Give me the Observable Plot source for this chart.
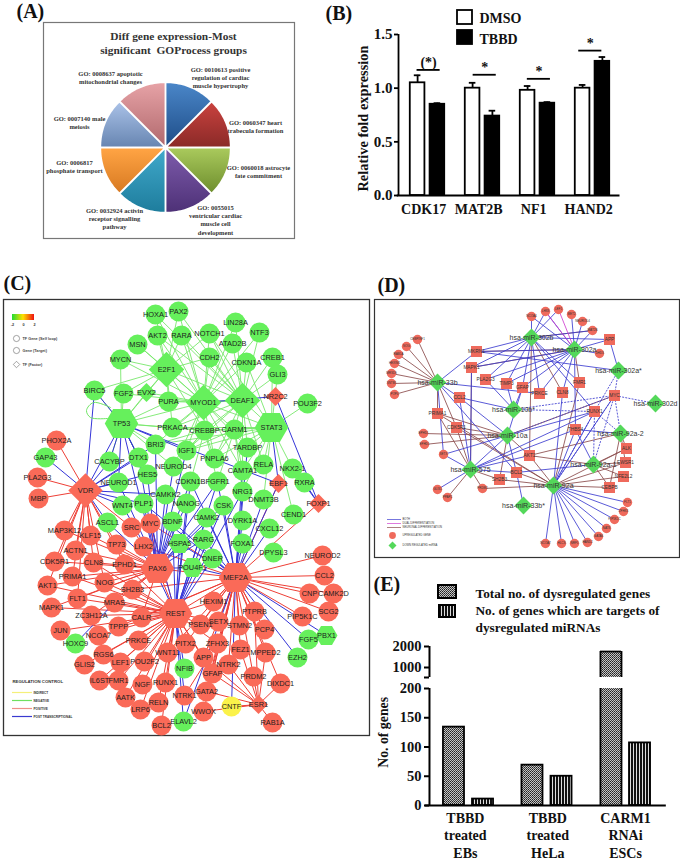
<!DOCTYPE html>
<html><head><meta charset="utf-8">
<script src="https://cdn.jsdelivr.net/npm/d3@7"></script>
<script src="https://cdn.jsdelivr.net/npm/@observablehq/plot@0.6"></script>
<style>
html,body{margin:0;padding:0;background:#fff}
#page{position:relative;width:680px;height:860px;overflow:hidden;background:#fff}
#page>svg{position:absolute}
</style></head><body>
<svg width="0" height="0" style="position:absolute">
<defs id="defs"></defs>
</svg>
<div id="page"></div>
<script>
/* ---------- (A) pie ---------- */
const pieTerms = [
 "GO: 0010613 positive\nregulation of cardiac\nmuscle hypertrophy",
 "GO: 0060347 heart\ntrabecula formation",
 "GO: 0060018 astrocyte\nfate commitment",
 "GO: 0055015\nventricular cardiac\nmuscle cell\ndevelopment",
 "GO: 0032924 activin\nreceptor signalling\npathway",
 "GO: 0006817\nphosphate transport",
 "GO: 0007140 male\nmeiosis",
 "GO: 0008637 apoptotic\nmitochondrial changes"];
const pieShares = [1,1,1,1,1,1,1,1];
const pieTop = ["#4a86c8","#c9423e","#a9c95c","#7d5bab","#40a8ca","#ffa444","#a9c1e7","#e6a2a6"];
const pieBottom = ["#1f4e89","#8b2a28","#6f8f2e","#4e3177","#1e7d9d","#d87a22","#6886b2","#b26a6e"];
const pieLabelX = [220,255,258,215,114,74,79,110];
const pieLabelY = [77,126,171,219,218,166,122,77];
/* ---------- (B) bars ---------- */
const genes = ["CDK17","MAT2B","NF1","HAND2"];
const dmso = [1.05,1.00,0.98,1.00];
const dmsoErr = [0.07,0.05,0.04,0.03];
const tbbd = [0.85,0.74,0.86,1.25];
const tbbdErr = [0.01,0.05,0.01,0.04];
const sigMark = ["(*)","*","*","*"];
const sigLevel = [1.17,1.125,1.087,1.35];
const sigShift = [0.02,0.04,0.025,-0.04];
/* ---------- (C) network ---------- */
const cGreen = [["HOXA1",155,314],["PAX2",178,311],["AKT2",157,335],["RARA",181,335],["MSN",137,344],["MYCN",120,359],["BIRC5",94,390],["FGF2",123,393],["PURA",168,401],["PRKACA",172,427],["BRI3",155,444],["IGF1",186,450],["DTX1",138,457],["CACYBP",109,461],["NEUROD4",173,466],["HES5",147,474],["NEUROD1",118,482],["CDKN1B",190,481],["CAMKK2",165,494],["NANOG",186,503],["WNT4",122,505],["PLP1",143,503],["GAP43",45,457],["ASCL1",107,522],["BDNF",172,521],["LIN28A",235,322],["NTF3",259,332],["NOTCH1",209,333],["ATAD2B",232,343],["CDH2",209,357],["CREB1",272,357],["CDKN1A",246,362],["GLI3",277,374],["POU3F2",307,403],["CREBBP",204,430],["CARM1",234,429],["TARDBP",247,447],["PNPLA6",214,458],["CAMTA1",242,470],["RELA",263,464],["NKX2-1",292,468],["RXRA",304,482],["FGFR1",217,481],["NRG1",242,491],["DNMT3B",263,499],["CSK",223,505],["CEND1",293,514],["CAMK2",206,517],["DYRK1A",242,520],["CXCL12",269,528],["RARG",203,539],["FOXA1",242,543],["DPYSL3",273,552],["DNER",212,558],["HOXC9",75,643],["NFIB",184,668],["ELAVL2",183,721],["FGF5",308,639],["EZH2",297,657]];
const cRed = [["PHOX2A",56,440],["PLA2G3",37,477],["MBP",38,498],["SRC",131,527],["MYC",150,523],["MAP3K12",64,530],["KLF15",90,535],["TP73",116,544],["LHX2",143,546],["ACTN1",75,550],["CDK5R1",54,561],["CLN8",93,562],["EPHD1",124,564],["PRIMA1",72,576],["AKT1",47,585],["NOG",104,582],["SH2B3",132,589],["MRAS",114,602],["FLT1",77,598],["MAPK1",51,607],["ZC3H12A",91,615],["CALR",141,617],["TPPP",118,626],["JUN",60,630],["NCOA7",98,635],["PRKCE",138,640],["WNT11",167,652],["RGS6",103,654],["GLIS2",84,664],["LEF1",120,662],["POU2F2",144,661],["IL6ST",99,680],["FMR1",118,680],["NGF",142,684],["RUNX1",165,682],["AATK",125,697],["RELN",158,702],["LRP6",140,709],["BCL2",161,725],["NEUROD2",322,555],["CCL2",324,575],["CAMK2D",333,593],["CNP",309,593],["HEXIM1",213,601],["PTPRB",254,611],["SCG2",328,611],["PIP5K1C",302,616],["SETX",218,621],["PSEN1",200,624],["STMN2",239,625],["PCP4",264,629],["ZFHX3",217,643],["PITX2",185,643],["FEZ1",240,649],["MPPED2",265,652],["APP",203,657],["NTRK2",228,664],["GFAP",212,673],["PRDM2",253,676],["DIXDC1",280,683],["GATA2",206,691],["NTRK1",184,695],["WWOX",203,711],["RAB1A",272,722]];
const cYellow = [["CNTF",231,706]];
const cGreenSmallHex = [["PBX1",326,635],["HSPA5",179,543],["POU4F1",192,567]];
const cGreenSmallDiamond = [["EVX2",146,392]];
const cGreenDiamond = [["E2F1",166,369],["MYOD1",203,402],["DEAF1",242,400]];
const cGreenHex = [["TP53",121,423],["STAT3",271,427]];
const cRedSmallDiamond = [["NR2C2",275,396],["EBF1",278,483],["FOXP1",318,503],["ESR1",258,704]];
const cRedDiamond = [["VDR",85,490]];
const cRedHex = [["PAX6",157,568],["MEF2A",235,577],["REST",175,613]];
const cGreenEdges = [
 ["E2F1",["HOXA1","PAX2","AKT2","RARA","MSN","MYCN","BIRC5","FGF2","EVX2","PURA","TP53","MYOD1","DEAF1","CREBBP","PRKACA","NOTCH1","CDH2"]],
 ["TP53",["BIRC5","FGF2","EVX2","PURA","PRKACA","BRI3","DTX1","CACYBP","HES5","MYOD1","CREBBP","MYCN","NEUROD4"]],
 ["MYOD1",["HOXA1","PAX2","AKT2","RARA","MSN","MYCN","NOTCH1","CDH2","ATAD2B","LIN28A","NTF3","CDKN1A","FGF2","EVX2","PURA","PRKACA","BRI3","IGF1","PNPLA6","CREBBP","CARM1","TARDBP","CAMTA1","NEUROD4","DEAF1","STAT3"]],
 ["DEAF1",["NOTCH1","CDH2","ATAD2B","LIN28A","NTF3","CDKN1A","CREB1","GLI3","PURA","PRKACA","CREBBP","CARM1","TARDBP","PNPLA6","AKT2","RARA","RELA","CAMTA1","STAT3","IGF1","HOXA1","PAX2"]],
 ["STAT3",["POU3F2","CREB1","GLI3","CDKN1A","CREBBP","CARM1","TARDBP","RELA","CAMTA1","NKX2-1","PNPLA6","PRKACA","IGF1","NRG1","DNMT3B","CEND1","NOTCH1","BRI3"]],
 ["CREBBP",["PRKACA","BRI3","IGF1","NEUROD4","CARM1","PNPLA6","FGFR1","CDKN1B"]],
 ["CARM1",["TARDBP","CAMTA1","PNPLA6","FGFR1","NRG1","IGF1"]]];
const cRedEdges = [
 ["VDR",["PHOX2A","PLA2G3","MBP","MAP3K12","KLF15","CDK5R1","ACTN1","CLN8","TP73","AKT1","PRIMA1","FLT1","SRC","EPHD1","NOG"]],
 ["PAX6",["LHX2","MYC","SRC","TP73","EPHD1","CLN8","ACTN1","CDK5R1","MAP3K12","KLF15","PRIMA1","AKT1","NOG","FLT1","SH2B3","MRAS","MAPK1","ZC3H12A","CALR","REST","MEF2A"]],
 ["REST",["SH2B3","MRAS","CALR","TPPP","NCOA7","PRKCE","ZC3H12A","FLT1","NOG","PRIMA1","RGS6","LEF1","POU2F2","WNT11","PITX2","RUNX1","IL6ST","FMR1","NGF","AATK","RELN","LRP6","BCL2","GLIS2","JUN","MYC","EPHD1","CLN8","MEF2A","PSEN1","SETX","ZFHX3","APP","GFAP","HEXIM1","MAPK1","AKT1"]],
 ["MEF2A",["NEUROD2","CCL2","CNP","CAMK2D","SCG2","PIP5K1C","HEXIM1","PTPRB","STMN2","SETX","PSEN1","PCP4","ZFHX3","PITX2","FEZ1","MPPED2","APP","NTRK2","GFAP","GATA2","PRDM2","DIXDC1","WWOX","CALR","MYC","TPPP","LHX2","FOXP1","EBF1","SH2B3","WNT11"]],
 ["ESR1",["GATA2","CNTF","GFAP","NTRK2","PRDM2","DIXDC1","FEZ1","MPPED2","RAB1A","PTPRB","WWOX","APP"]],
 ["ZFHX3",["NTRK1","GATA2"]]];
const cBlueEdges = [
 ["VDR",["GAP43","NEUROD1","WNT4","PLP1","CACYBP","TP53","DTX1","HES5","ASCL1","BIRC5","CAMKK2","BRI3"]],
 ["PAX6",["BDNF","HSPA5","POU4F1","CAMKK2","NANOG","HES5","NEUROD1","PLP1","WNT4","ASCL1","DTX1","BRI3","IGF1","NEUROD4","CDKN1B","RARG","CSK","CAMK2","TP53","FGFR1"]],
 ["REST",["NFIB","ELAVL2","NTRK1","POU4F1","HSPA5","BDNF","MYC","LHX2","RARG","FGFR1","DNER","CAMK2","CDKN1B","NANOG","CSK","NRG1"]],
 ["MEF2A",["CNTF","FGF5","PBX1","EZH2","POU4F1","DNER","FOXA1","DYRK1A","CSK","CXCL12","NRG1","CAMK2","DNMT3B","CDKN1B","FGFR1","TARDBP","EBF1","RARG","HSPA5","BDNF","CAMTA1","PLP1","ELAVL2"]],
 ["TP53",["BIRC5","CACYBP","IGF1","DTX1","HES5","NEUROD1","EBF1"]],
 ["MYOD1",["NR2C2"]],["NR2C2",["FOXP1"]],["STAT3",["EBF1"]],["FOXP1",["NKX2-1","RXRA"]],["MRAS",["HOXC9"]]];
const cSelfLoop = [[110,407],[93,402],[86,410],[90,417],[107,418]];
const cRegLegend = ["INDIRECT","NEGATIVE","POSITIVE","POST TRANSCRIPTIONAL"];
const cRegColors = ["#f5f07a","#6fe05f","#ef8f88","#3a3ad0"];
const cTypeLegend = ["TF Gene (Self loop)","Gene (Target)","TF (Factor)"];
/* ---------- (D) miRNA network ---------- */
const dMirna = [["hsa-miR-302b",531,337],["hsa-miR-302a",574,349],["hsa-miR-302a*",618,370],["hsa-miR-302d",655,403],["hsa-miR-33b",437,382],["hsa-miR-10b*",513,409],["hsa-miR-10a",507,435],["hsa-miR-92a-2",620,433],["hsa-miR-92a-1",593,464],["hsa-miR-575",470,469],["hsa-miR-92a",553,485],["hsa-miR-33b*",523,505]];
const dSquares = [["MKRN1",476,351],["MAPK1",471,367],["PLA2G3",485,379],["TIMP3",506,383],["GFAP",522,387],["PRKCE",539,393],["CLN8",562,392],["FMR1",579,382],["APP",609,339],["MYC",614,395],["RUNX1",594,411],["THBS4",575,429],["CCL2",459,397],["PRIMA1",437,413],["CDK5R1",456,427],["AKT1",529,455],["ALK",626,448],["EWSR1",625,462],["NFE2L2",623,476],["CEBPB",609,487],["BCL2",516,472],["SH2B3",499,479]];
const dCircles = [["NCOA4",531,316],["LHX8",545,311],["LEF1",558,309],["MET2",571,314],["NEUROD4",582,321],["MAT2B",592,330],["DHD3",599,353],["CEBPINF1",417,339],["NOG",406,346],["RAB1A",398,354],["HEXIM1",394,363],["MRSD9",391,373],["SNTB1",391,383],["POP4",394,394],["EPHD1",423,433],["EFHD1",424,444],["SETX",443,454],["GLIS1",437,489],["PPAP2",447,497],["PRDM2",482,488],["FLT1",627,502],["ZFHX3",623,511],["PIP5K1C",614,519],["NAT8",606,528],["GATA6",598,536],["HAND2",587,542],["NRF1",574,543],["HLCS",561,543],["NCOA7",545,543]];
const dBlueEdges = [
 ["hsa-miR-302b",["NCOA4","LHX8","LEF1","MKRN1","MAPK1","PLA2G3","TIMP3","GFAP","PRKCE","RUNX1","APP","MAT2B","FMR1"]],
 ["hsa-miR-302a",["MET2","NEUROD4","MAT2B","APP","DHD3","MKRN1","MAPK1","PLA2G3","TIMP3","GFAP","CLN8","THBS4","LHX8","NCOA4","PRKCE"]],
 ["hsa-miR-302a*",["MKRN1","APP"]],
 ["hsa-miR-33b",["MKRN1","PRKCE","CCL2","BCL2","SETX"]],
 ["hsa-miR-10b*",["PLA2G3","CCL2","TIMP3","GFAP"]],
 ["hsa-miR-10a",["CCL2","GFAP","SETX","BCL2","RUNX1"]],
 ["hsa-miR-575",["GLIS1","SETX","CCL2","BCL2","THBS4","AKT1","RUNX1","MAPK1","hsa-miR-10a"]],
 ["hsa-miR-92a",["FLT1","ZFHX3","PIP5K1C","NAT8","GATA6","HAND2","NRF1","HLCS","NCOA7","THBS4","RUNX1","MYC","CLN8"]],
 ["hsa-miR-92a-1",["THBS4","BCL2"]],["hsa-miR-92a-2",["THBS4"]],["hsa-miR-33b*",["BCL2"]]];
const dBrownEdges = [
 ["hsa-miR-33b",["CEBPINF1","NOG","RAB1A","HEXIM1","MRSD9","SNTB1","POP4","PRIMA1","CDK5R1"]],
 ["hsa-miR-302b",["MAT2B","CLN8","AKT1"]],["hsa-miR-302a",["MKRN1","MAPK1","FMR1"]],
 ["hsa-miR-10a",["PRIMA1","CDK5R1","EPHD1","EFHD1","AKT1","SH2B3","MYC"]],
 ["hsa-miR-575",["PPAP2","PRDM2","SH2B3","PRIMA1","CDK5R1","MAPK1"]],
 ["hsa-miR-92a",["CEBPB","NFE2L2","EWSR1","ALK","SH2B3","PRDM2","BCL2","AKT1","CDK5R1","PRIMA1","FMR1"]],
 ["hsa-miR-92a-1",["CEBPB","EWSR1","AKT1","NFE2L2","ALK"]],
 ["hsa-miR-92a-2",["ALK","EWSR1","CEBPB","AKT1"]]];
const dPinkEdges = [["hsa-miR-302a",["LHX8","LEF1"]]];
const dDashedEdges = [
 ["hsa-miR-302a*",["MYC","RUNX1"]],["hsa-miR-302d",["MYC"]],
 ["hsa-miR-10b*",["RUNX1","MYC"]],["hsa-miR-10a",["MYC"]],
 ["hsa-miR-92a",["MYC","RUNX1"]],["hsa-miR-92a-1",["MYC","RUNX1"]],["hsa-miR-92a-2",["MYC","RUNX1"]]];
const dLineLegend = ["BOTH","DUAL DIFFERENTIATION","NEURONAL DIFFERENTIATION"];
const dLineColors = ["#3c3cd0","#d040d0","#8a4a4a"];
const dMarkLegend = ["UPREGULATED GENE","DOWN REGULATED miRNA"];
/* ---------- (E) bars ---------- */
const eGroups = ["TBBD\ntreated\nEBs","TBBD\ntreated\nHeLa","CARM1\nRNAi\nESCs"];
const eTotal = [134,69,1760];
const eTargets = [11,50,107];
const eLowerTicks = [0,50,100,150,200];
const eUpperTicks = [1000,2000];
const eLegend = ["Total no. of dysregulated genes","No. of genes which are targets of\ndysregulated miRNAs"];

/* ---------- shared ---------- */
const SERIF = "'Liberation Serif','Times New Roman',serif";
const SANS = "'Liberation Sans',Arial,sans-serif";
const page = document.getElementById("page");
function place(svg,left,top){svg.style.left=left+"px";svg.style.top=top+"px";svg.style.maxWidth="none";svg.style.height=svg.getAttribute("height")+"px";page.appendChild(svg);}
const defs = document.getElementById("defs");
const makeGrad = (id,stops)=>`<linearGradient id="${id}" x1="0" y1="0" x2="0" y2="1">${stops}</linearGradient>`;
defs.innerHTML =
 pieTop.map((c,i)=>makeGrad("pie"+i,`<stop offset="0" stop-color="${c}"/><stop offset="1" stop-color="${pieBottom[i]}"/>`)).join("")
 +`<linearGradient id="heat" x1="0" y1="0" x2="1" y2="0"><stop offset="0" stop-color="#22dd33"/><stop offset="0.5" stop-color="#ffe000"/><stop offset="1" stop-color="#ee1111"/></linearGradient>`
 +`<pattern id="dots" width="2" height="2" patternUnits="userSpaceOnUse"><rect width="2" height="2" fill="#c4c4c4"/><rect width="1" height="1" fill="#222"/><rect x="1" y="1" width="1" height="1" fill="#444"/></pattern>`
 +`<pattern id="stripes" width="3" height="3" patternUnits="userSpaceOnUse"><rect width="3" height="3" fill="#ddd"/><rect width="2" height="3" fill="#111"/></pattern>`;

const bare = {axis:null};
const pxScale = (a,b)=>({...bare,domain:[a,b],range:[0,b-a]});
const panelLabel = (t,x,y)=>Plot.text([t],{x:()=>x,y:()=>y,text:d=>d,fontFamily:SERIF,fontWeight:"bold",fontSize:20,fill:"#111",textAnchor:"start"});

/* ---------- draw (A) ---------- */
{
 const CX=165,CY=147,R=62,OFF=2.5;
 const arcs = d3.pie().sort(null)(pieShares);
 const sector = a=>{const mid=(a.startAngle+a.endAngle)/2;
  const ox=CX+OFF*Math.sin(mid),oy=CY-OFF*Math.cos(mid);
  const pts=[{x:ox,y:oy}];
  d3.range(0,25).forEach(k=>{const t=a.startAngle+(a.endAngle-a.startAngle)*k/24;pts.push({x:ox+R*Math.sin(t),y:oy-R*Math.cos(t)});});
  pts.push({x:ox,y:oy});return pts;};
 const svg = Plot.plot({width:340,height:250,marginLeft:43,marginTop:22,marginRight:46,marginBottom:12,
  x:pxScale(0,340),y:pxScale(0,250),style:{background:"transparent"},
  marks:[
   Plot.frame({stroke:"#777",strokeWidth:1.2}),
   ...arcs.map((a,i)=>Plot.line(sector(a),{x:"x",y:"y",fill:`url(#pie${i})`,stroke:"none"})),
   Plot.text(pieTerms,{x:(d,i)=>pieLabelX[i],y:(d,i)=>pieLabelY[i],text:d=>d,fontFamily:SERIF,fontWeight:"bold",fontSize:6.5,lineHeight:1.28,fill:"#333"}),
   Plot.text(["Diff gene expression-Most\nsignificant  GOProcess groups"],{x:()=>173,y:()=>42,text:d=>d,fontFamily:SERIF,fontWeight:"bold",fontSize:11.4,lineHeight:1.25,fill:"#333"}),
   panelLabel("(A)",16,11)
  ]});
 place(svg,0,0);
}
/* ---------- draw (B) ---------- */
{
 const OFF=0.18,HALF=0.133;
 const bars = genes.flatMap((g,i)=>[{g,i,x:i-OFF,v:dmso[i],e:dmsoErr[i],fill:"#fff"},{g,i,x:i+OFF,v:tbbd[i],e:tbbdErr[i],fill:"#000"}]);
 const sig = genes.map((g,i)=>({i,x:i+sigShift[i],y:sigLevel[i],t:sigMark[i]}));
 const svg = Plot.plot({width:340,height:250,marginLeft:58,marginTop:34,marginRight:60,marginBottom:55,
  x:{axis:null,domain:[0,3],range:[87,252]},
  y:{domain:[0,1.5],range:[195,34],axis:null},style:{background:"transparent"},
  marks:[
   Plot.ruleX(bars,{x:"x",y1:"v",y2:d=>d.v+d.e,stroke:"#000",strokeWidth:1.8}),
   Plot.ruleY(bars,{y:d=>d.v+d.e,x1:d=>d.x-0.06,x2:d=>d.x+0.06,stroke:"#000",strokeWidth:1.8}),
   Plot.rect(bars,{x1:d=>d.x-HALF,x2:d=>d.x+HALF,y1:()=>0,y2:"v",fill:"fill",stroke:"#000",strokeWidth:1.8}),
   Plot.ruleY([0],{x1:-0.55,x2:3.5,stroke:"#000",strokeWidth:1.8}),
   Plot.ruleX([-0.527],{y1:0,y2:1.5,stroke:"#000",strokeWidth:1.8}),
   Plot.axisY({ticks:[0,0.5,1,1.5],tickFormat:".1f",tickSize:4,tickPadding:2,label:null,fontFamily:SERIF,fontWeight:"bold",fontSize:15,fill:"#111",stroke:"#000",strokeWidth:1.8,anchor:"left"}),
   Plot.text(genes,{x:(d,i)=>i-0.07,y:()=>0,dy:14,text:d=>d,fontFamily:SERIF,fontWeight:"bold",fontSize:14,fill:"#111"}),
   Plot.ruleY(sig,{y:"y",x1:d=>d.x-0.21,x2:d=>d.x+0.21,stroke:"#000",strokeWidth:1.8}),
   Plot.text(sig,{x:"x",y:"y",dy:-7,text:"t",fontFamily:SERIF,fontWeight:"bold",fontSize:14,fill:"#111"}),
   Plot.text(["Relative fold expression"],{x:()=>-1.16,y:()=>0.717,rotate:-90,text:d=>d,fontFamily:SERIF,fontWeight:"bold",fontSize:14.4,fill:"#111"})
  ]});
 place(svg,340,0);
 const leg = Plot.plot({width:220,height:60,margin:0,x:pxScale(0,220),y:pxScale(0,60),style:{background:"transparent"},
  marks:[
   Plot.rect(["DMSO","TBBD"],{x1:()=>5,x2:()=>20,y1:(d,i)=>i?30:10,y2:(d,i)=>i?44:24,fill:(d,i)=>i?"#000":"#fff",stroke:"#000",strokeWidth:1.8}),
   Plot.text(["DMSO","TBBD"],{x:()=>27,y:(d,i)=>i?39:18,text:d=>d,textAnchor:"start",fontFamily:SERIF,fontWeight:"bold",fontSize:14,fill:"#111"})
  ]});
 place(leg,452,0);
 const l=Plot.plot({width:30,height:30,margin:0,x:pxScale(0,30),y:pxScale(0,30),style:{background:"transparent"},marks:[panelLabel("(B)",0,13)]});
 place(l,325,0);
}
/* ---------- draw (C) ---------- */
{
 const all=[...cGreen,...cRed,...cYellow,...cGreenSmallHex,...cGreenSmallDiamond,...cGreenDiamond,...cGreenHex,...cRedSmallDiamond,...cRedDiamond,...cRedHex];
 const pos=new Map(all.map(d=>[d[0],d]));
 const expand=list=>list.flatMap(([h,ts])=>ts.map(t=>({a:pos.get(h),b:pos.get(t)})));
 const link=(list,stroke,w)=>Plot.link(expand(list),{x1:d=>d.a[1],y1:d=>d.a[2],x2:d=>d.b[1],y2:d=>d.b[2],stroke,strokeWidth:w});
 const G="#66f05c",Rd="#fa6a58";
 const dots=(arr,fill,r,symbol,rot)=>Plot.dot(arr,{x:d=>d[1],y:d=>d[2],r,symbol,fill,stroke:"none",rotate:rot||0});
 const reg=cRegLegend.map((t,i)=>({t,c:cRegColors[i],y:692+8*i}));
 const svg=Plot.plot({width:372,height:470,marginLeft:3,marginTop:29,marginRight:3,marginBottom:5,
  x:pxScale(0,372),y:pxScale(270,740),style:{background:"transparent"},
  marks:[
   Plot.frame({stroke:"#333",strokeWidth:1.3}),
   link(cGreenEdges,"#78e86c",0.9),
   link(cRedEdges,"#ee3f36",1),
   link(cBlueEdges,"#3535d8",1),
   Plot.line(cSelfLoop,{x:d=>d[0],y:d=>d[1],curve:"catmull-rom",stroke:"#6fe564",strokeWidth:1}),
   dots(cGreen,G,10,"circle"),dots(cRed,Rd,10,"circle"),dots(cYellow,"#fbf24a",10,"circle"),
   dots(cGreenSmallHex,G,9.5,"hexagon",30),dots(cGreenSmallDiamond,G,8.5,"diamond2"),
   dots(cGreenDiamond,G,16,"diamond2"),dots(cGreenHex,G,14.5,"hexagon",30),
   dots(cRedSmallDiamond,Rd,8.5,"diamond2"),dots(cRedDiamond,Rd,15.5,"diamond2"),dots(cRedHex,Rd,14.5,"hexagon",30),
   Plot.text(all,{x:d=>d[1],y:d=>d[2],text:d=>d[0],fontFamily:SANS,fontSize:7.4,fill:"#1c1c1c"}),
   Plot.rect(["heat"],{x1:()=>12,x2:()=>34,y1:()=>314,y2:()=>320,fill:"url(#heat)"}),
   Plot.text(["-2","0","2"],{x:(d,i)=>12+11*i,y:()=>324,text:d=>d,fontFamily:SANS,fontWeight:"bold",fontSize:3.8,fill:"#333"}),
   Plot.dot(cTypeLegend,{x:()=>16,y:(d,i)=>[338,350,364][i],r:(d,i)=>i==2?3.2:3.6,symbol:(d,i)=>i==2?"diamond2":"circle",fill:"#fff",stroke:"#666",strokeWidth:.6}),
   Plot.text(cTypeLegend,{x:()=>22,y:(d,i)=>[338,350,364][i],text:d=>d,textAnchor:"start",fontFamily:SANS,fontWeight:"bold",fontSize:3.8,fill:"#444"}),
   Plot.text(["REGULATION CONTROL"],{x:()=>12,y:()=>681,text:d=>d,textAnchor:"start",fontFamily:SANS,fontWeight:"bold",fontSize:4.3,fill:"#333"}),
   Plot.ruleY(reg,{y:"y",x1:12,x2:32,stroke:"c",strokeWidth:1.2}),
   Plot.text(reg,{x:()=>33,y:"y",text:"t",textAnchor:"start",fontFamily:SANS,fontWeight:"bold",fontSize:3.1,fill:"#333"}),
   panelLabel("(C)",3,283)
  ]});
 place(svg,0,270);
}
/* ---------- draw (D) ---------- */
{
 const all=[...dMirna,...dSquares,...dCircles];
 const pos=new Map(all.map(d=>[d[0],d]));
 const expand=list=>list.flatMap(([h,ts])=>ts.map(t=>({a:pos.get(h),b:pos.get(t)})));
 const link=(list,stroke,extra={})=>Plot.link(expand(list),{x1:d=>d.a[1],y1:d=>d.a[2],x2:d=>d.b[1],y2:d=>d.b[2],stroke,strokeWidth:.85,...extra});
 const lines=dLineLegend.map((t,i)=>({t,c:dLineColors[i],y:519+4*i}));
 const svg=Plot.plot({width:310,height:295,marginLeft:4,marginTop:29,marginRight:1,marginBottom:8,
  x:pxScale(370,680),y:pxScale(270,565),style:{background:"transparent"},
  marks:[
   Plot.frame({stroke:"#333",strokeWidth:1.2}),
   link(dBrownEdges,"#8a4a4a"),link(dBlueEdges,"#3c3cd0"),link(dPinkEdges,"#d040d0"),link(dDashedEdges,"#3c3cd0",{strokeDasharray:"2,1.2"}),
   Plot.dot(dCircles,{x:d=>d[1],y:d=>d[2],r:4.7,fill:"#ef6a5c"}),
   Plot.dot(dSquares,{x:d=>d[1],y:d=>d[2],r:6.2,symbol:"square",fill:"#ef6a5c"}),
   Plot.dot(dMirna,{x:d=>d[1],y:d=>d[2],r:8,symbol:"diamond2",fill:"#54d85a"}),
   Plot.text(dCircles,{x:d=>d[1],y:d=>d[2],text:d=>d[0],fontFamily:SANS,fontSize:3,fill:"#333"}),
   Plot.text(dSquares,{x:d=>d[1],y:d=>d[2],text:d=>d[0],fontFamily:SANS,fontSize:4.8,fill:"#333"}),
   Plot.text(dMirna,{x:d=>d[1],y:d=>d[2],text:d=>d[0],fontFamily:SANS,fontSize:7,fill:"#333"}),
   Plot.ruleY(lines,{y:"y",x1:387,x2:401,stroke:"c",strokeWidth:.7}),
   Plot.text(lines,{x:()=>402,y:"y",text:"t",textAnchor:"start",fontFamily:SANS,fontSize:2.7,fill:"#333"}),
   Plot.dot(["u"],{x:()=>392,y:()=>535,r:3.4,fill:"#ef6a5c"}),
   Plot.dot(["d"],{x:()=>392,y:()=>545,r:3.6,symbol:"diamond2",fill:"#54d85a"}),
   Plot.text(dMarkLegend,{x:()=>402,y:(d,i)=>i?545:535,text:d=>d,textAnchor:"start",fontFamily:SANS,fontSize:2.7,fill:"#333"}),
   panelLabel("(D)",377,285)
  ]});
 place(svg,370,270);
}
/* ---------- draw (E): the axis breaks between 200 and about 524, so two stacked plots ---------- */
{
 const OFF=0.185,HALF=0.134,T=565,BR=524,TOP=200,W=1.8;
 const total=eGroups.map((g,i)=>({i,x:i-OFF,v:eTotal[i]}));
 const tgt=eGroups.map((g,i)=>({i,x:i+OFF,v:eTargets[i]}));
 const broken=total.filter(d=>d.v>TOP), whole=total.filter(d=>d.v<=TOP);
 const xs={axis:null,domain:[0,2],range:[98,255]};
 const sides=list=>list.flatMap(d=>[d.x-HALF,d.x+HALF]);
 const lower=Plot.plot({width:310,height:295,marginLeft:59,marginTop:60,marginRight:10,marginBottom:55,
  x:xs,y:{axis:null,domain:[0,TOP],range:[805-T,688-T]},style:{background:"transparent"},
  marks:[
   Plot.rect(whole,{x1:d=>d.x-HALF,x2:d=>d.x+HALF,y1:()=>0,y2:"v",fill:"url(#dots)",stroke:"#000",strokeWidth:W}),
   Plot.rect(broken,{x1:d=>d.x-HALF,x2:d=>d.x+HALF,y1:()=>0,y2:()=>TOP,fill:"url(#dots)"}),
   Plot.ruleX(sides(broken),{y1:0,y2:TOP,stroke:"#000",strokeWidth:W}),
   Plot.rect(tgt,{x1:d=>d.x-HALF,x2:d=>d.x+HALF,y1:()=>0,y2:"v",fill:"url(#stripes)",stroke:"#000",strokeWidth:W}),
   Plot.ruleY([0],{x1:-0.55,x2:2.52,stroke:"#000",strokeWidth:2}),
   Plot.ruleX([-0.497],{y1:0,y2:TOP,stroke:"#000",strokeWidth:2}),
   Plot.axisY({ticks:eLowerTicks,tickSize:5,tickPadding:3,label:null,tickFormat:d=>String(d),anchor:"left",fontFamily:SERIF,fontWeight:"bold",fontSize:14.5,fill:"#111",stroke:"#000",strokeWidth:2}),
   Plot.text(eGroups,{x:(d,i)=>[-0.04,1.01,2][i],y:()=>0,dy:29.5,text:d=>d,lineHeight:1.22,fontFamily:SERIF,fontWeight:"bold",fontSize:14,fill:"#111"}),
   Plot.text(["No. of genes"],{x:()=>-1.08,y:()=>125,text:d=>d,rotate:-90,fontFamily:SERIF,fontWeight:"bold",fontSize:13.8,fill:"#111"})
  ]});
 place(lower,370,T);
 const upper=Plot.plot({width:310,height:295,marginLeft:59,marginTop:60,marginRight:10,marginBottom:55,
  x:xs,y:{axis:null,domain:[BR,2000],range:[677-T,646-T]},style:{background:"transparent"},
  marks:[
   Plot.rect(broken,{x1:d=>d.x-HALF,x2:d=>d.x+HALF,y1:()=>BR,y2:"v",fill:"url(#dots)"}),
   Plot.ruleX(sides(broken),{y1:BR,y2:d3.max(broken,d=>d.v),stroke:"#000",strokeWidth:W}),
   Plot.ruleY(broken,{y:"v",x1:d=>d.x-HALF,x2:d=>d.x+HALF,stroke:"#000",strokeWidth:W}),
   Plot.ruleX([-0.497],{y1:BR,y2:2000,stroke:"#000",strokeWidth:2}),
   Plot.axisY({ticks:[BR,...eUpperTicks],tickSize:5,tickPadding:3,label:null,tickFormat:d=>d===BR?"":String(d),anchor:"left",fontFamily:SERIF,fontWeight:"bold",fontSize:14.5,fill:"#111",stroke:"#000",strokeWidth:2})
  ]});
 place(upper,370,T);
 const leg=Plot.plot({width:310,height:70,margin:0,x:pxScale(370,680),y:pxScale(565,635),style:{background:"transparent"},
  marks:[
   panelLabel("(E)",373,584),
   Plot.rect(["a"],{x1:()=>438,x2:()=>456,y1:()=>585,y2:()=>598,fill:"url(#dots)",stroke:"#000",strokeWidth:2}),
   Plot.rect(["b"],{x1:()=>439,x2:()=>455,y1:()=>605,y2:()=>617,fill:"url(#stripes)",stroke:"#000",strokeWidth:2}),
   Plot.text(eLegend,{x:()=>475,y:(d,i)=>i?617.5:592,text:d=>d,textAnchor:"start",lineHeight:1.28,fontFamily:SERIF,fontWeight:"bold",fontSize:13.3,fill:"#111"})
  ]});
 place(leg,370,T);
}
</script>
</body></html>
